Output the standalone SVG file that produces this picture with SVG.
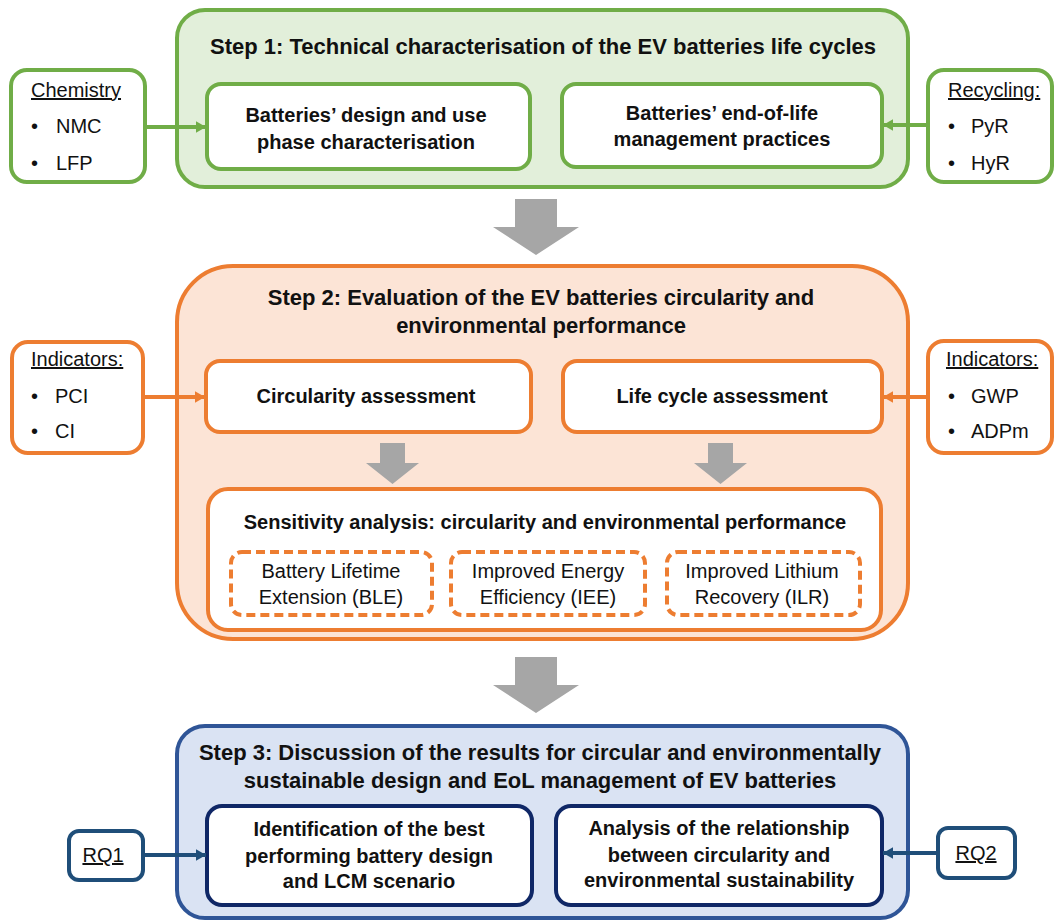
<svg xmlns="http://www.w3.org/2000/svg" width="1056" height="922" viewBox="0 0 1056 922">
<style>
text{font-family:"Liberation Sans",Arial,sans-serif;fill:#111;}
.t{font-size:22px;font-weight:bold;text-anchor:middle;}
.b{font-size:20px;font-weight:bold;text-anchor:middle;}
.r{font-size:20px;}
.rc{font-size:20px;text-anchor:middle;}
.u{text-decoration:underline;}
.g{stroke:#70ad47;stroke-width:4;}
.o{stroke:#ed7d31;stroke-width:4;}
.bl{stroke:#2f5597;stroke-width:4;}
.nv{stroke:#0f2766;stroke-width:4;}
.dash{stroke:#ed7d31;stroke-width:4;stroke-dasharray:9 5;fill:none;}
.w{fill:#fff;}
.arr{fill:#a6a6a6;}
</style>
<defs>
<marker id="mg" markerWidth="4" markerHeight="4" refX="2.6" refY="2" orient="auto" markerUnits="strokeWidth"><path d="M0,0.5 L2.6,2 L0,3.5 Z" fill="#70ad47"/></marker>
<marker id="mo" markerWidth="4" markerHeight="4" refX="2.6" refY="2" orient="auto" markerUnits="strokeWidth"><path d="M0,0.5 L2.6,2 L0,3.5 Z" fill="#ed7d31"/></marker>
<marker id="mb" markerWidth="4" markerHeight="4" refX="2.6" refY="2" orient="auto" markerUnits="strokeWidth"><path d="M0,0.5 L2.6,2 L0,3.5 Z" fill="#1f4e79"/></marker>
</defs>

<g id="step1">
<rect x="177" y="10" width="731" height="177" rx="28" fill="#e2efda" class="g"/>
<text class="t" x="543" y="54">Step 1: Technical characterisation of the EV batteries life cycles</text>
</g>
<g id="design">
<rect x="207" y="84" width="323" height="85" rx="14" class="w g"/>
<text class="b" x="366" y="122">Batteries’ design and use</text>
<text class="b" x="366" y="149">phase characterisation</text>
</g>
<g id="eol">
<rect x="562" y="84" width="320" height="83" rx="14" class="w g"/>
<text class="b" x="722" y="120">Batteries’ end-of-life</text>
<text class="b" x="722" y="146">management practices</text>
</g>
<g id="chemistry">
<rect x="11" y="70" width="134" height="112" rx="16" class="w g"/>
<text class="r u" x="31" y="97">Chemistry</text>
<text class="r" x="31" y="133">•</text><text class="r" x="56" y="133">NMC</text>
<text class="r" x="31" y="170">•</text><text class="r" x="56" y="170">LFP</text>
</g>
<g id="recycling">
<rect x="928" y="70" width="124" height="112" rx="16" class="w g"/>
<text class="r u" x="948" y="97">Recycling:</text>
<text class="r" x="948" y="133">•</text><text class="r" x="971" y="133">PyR</text>
<text class="r" x="948" y="170">•</text><text class="r" x="971" y="170">HyR</text>
</g>

<g id="step2">
<rect x="177" y="266" width="731" height="373" rx="56" fill="#fce4d6" class="o"/>
<text class="t" x="541" y="305">Step 2: Evaluation of the EV batteries circularity and</text>
<text class="t" x="541" y="333">environmental performance</text>
</g>
<g id="circularity">
<rect x="206" y="361" width="325" height="71" rx="14" class="w o"/>
<text class="b" x="366" y="403">Circularity assessment</text>
</g>
<g id="lca">
<rect x="563" y="361" width="319" height="71" rx="14" class="w o"/>
<text class="b" x="722" y="403">Life cycle assessment</text>
</g>
<g id="sensitivity">
<rect x="208" y="489" width="673" height="141" rx="20" class="w o"/>
<text class="b" x="545" y="529">Sensitivity analysis: circularity and environmental performance</text>
</g>
<g id="ble">
<rect x="231" y="552" width="201" height="63" rx="11" class="dash"/>
<text class="rc" x="331" y="578">Battery Lifetime</text>
<text class="rc" x="331" y="604">Extension (BLE)</text>
</g>
<g id="iee">
<rect x="451" y="552" width="194" height="63" rx="11" class="dash"/>
<text class="rc" x="548" y="578">Improved Energy</text>
<text class="rc" x="548" y="604">Efficiency (IEE)</text>
</g>
<g id="ilr">
<rect x="667" y="552" width="193" height="63" rx="11" class="dash"/>
<text class="rc" x="762" y="578">Improved Lithium</text>
<text class="rc" x="762" y="604">Recovery (ILR)</text>
</g>
<g id="indicators-left">
<rect x="12" y="342" width="131" height="111" rx="16" class="w o"/>
<text class="r u" x="31" y="366">Indicators:</text>
<text class="r" x="31" y="403">•</text><text class="r" x="55" y="403">PCI</text>
<text class="r" x="31" y="438">•</text><text class="r" x="55" y="438">CI</text>
</g>
<g id="indicators-right">
<rect x="928" y="341" width="124" height="112" rx="16" class="w o"/>
<text class="r u" x="946" y="366">Indicators:</text>
<text class="r" x="948" y="403">•</text><text class="r" x="971" y="403">GWP</text>
<text class="r" x="948" y="438">•</text><text class="r" x="971" y="438">ADPm</text>
</g>

<g id="step3">
<rect x="177" y="726" width="731" height="192" rx="28" fill="#dae3f3" class="bl"/>
<text class="t" x="540" y="760">Step 3: Discussion of the results for circular and environmentally</text>
<text class="t" x="540" y="788">sustainable design and EoL management of EV batteries</text>
</g>
<g id="identification">
<rect x="207" y="806" width="325" height="99" rx="15" class="w nv"/>
<text class="b" x="369" y="836">Identification of the best</text>
<text class="b" x="369" y="863">performing battery design</text>
<text class="b" x="369" y="888">and LCM scenario</text>
</g>
<g id="relationship">
<rect x="556" y="806" width="326" height="99" rx="15" class="w nv"/>
<text class="b" x="719" y="835">Analysis of the relationship</text>
<text class="b" x="719" y="862">between circularity and</text>
<text class="b" x="719" y="887">environmental sustainability</text>
</g>
<g id="rq1">
<rect x="69" y="831" width="74" height="49" rx="10" class="w" stroke="#1f4e79" stroke-width="4"/>
<text class="rc u" x="103" y="862">RQ1</text>
</g>
<g id="rq2">
<rect x="938" y="828" width="77" height="50" rx="10" class="w" stroke="#1f4e79" stroke-width="4"/>
<text class="rc u" x="976" y="860">RQ2</text>
</g>

<g id="connectors">
<line x1="145" y1="127" x2="206" y2="127" stroke="#70ad47" stroke-width="4" marker-end="url(#mg)"/>
<line x1="928" y1="125" x2="883" y2="125" stroke="#70ad47" stroke-width="4" marker-end="url(#mg)"/>
<line x1="143" y1="397" x2="205" y2="397" stroke="#ed7d31" stroke-width="4" marker-end="url(#mo)"/>
<line x1="928" y1="397" x2="883" y2="397" stroke="#ed7d31" stroke-width="4" marker-end="url(#mo)"/>
<line x1="143" y1="855" x2="206" y2="855" stroke="#1f4e79" stroke-width="4" marker-end="url(#mb)"/>
<line x1="938" y1="853" x2="883" y2="853" stroke="#1f4e79" stroke-width="4" marker-end="url(#mb)"/>
<polygon class="arr" points="515,199 557,199 557,227 579,227 536,255 493,227 515,227"/>
<polygon class="arr" points="515,657 557,657 557,685 579,685 536,713 493,685 515,685"/>
<polygon class="arr" points="380,443 405,443 405,463 419,463 392.5,484 366,463 380,463"/>
<polygon class="arr" points="708,443 733,443 733,463 747,463 720.5,484 694,463 708,463"/>
</g>
</svg>
